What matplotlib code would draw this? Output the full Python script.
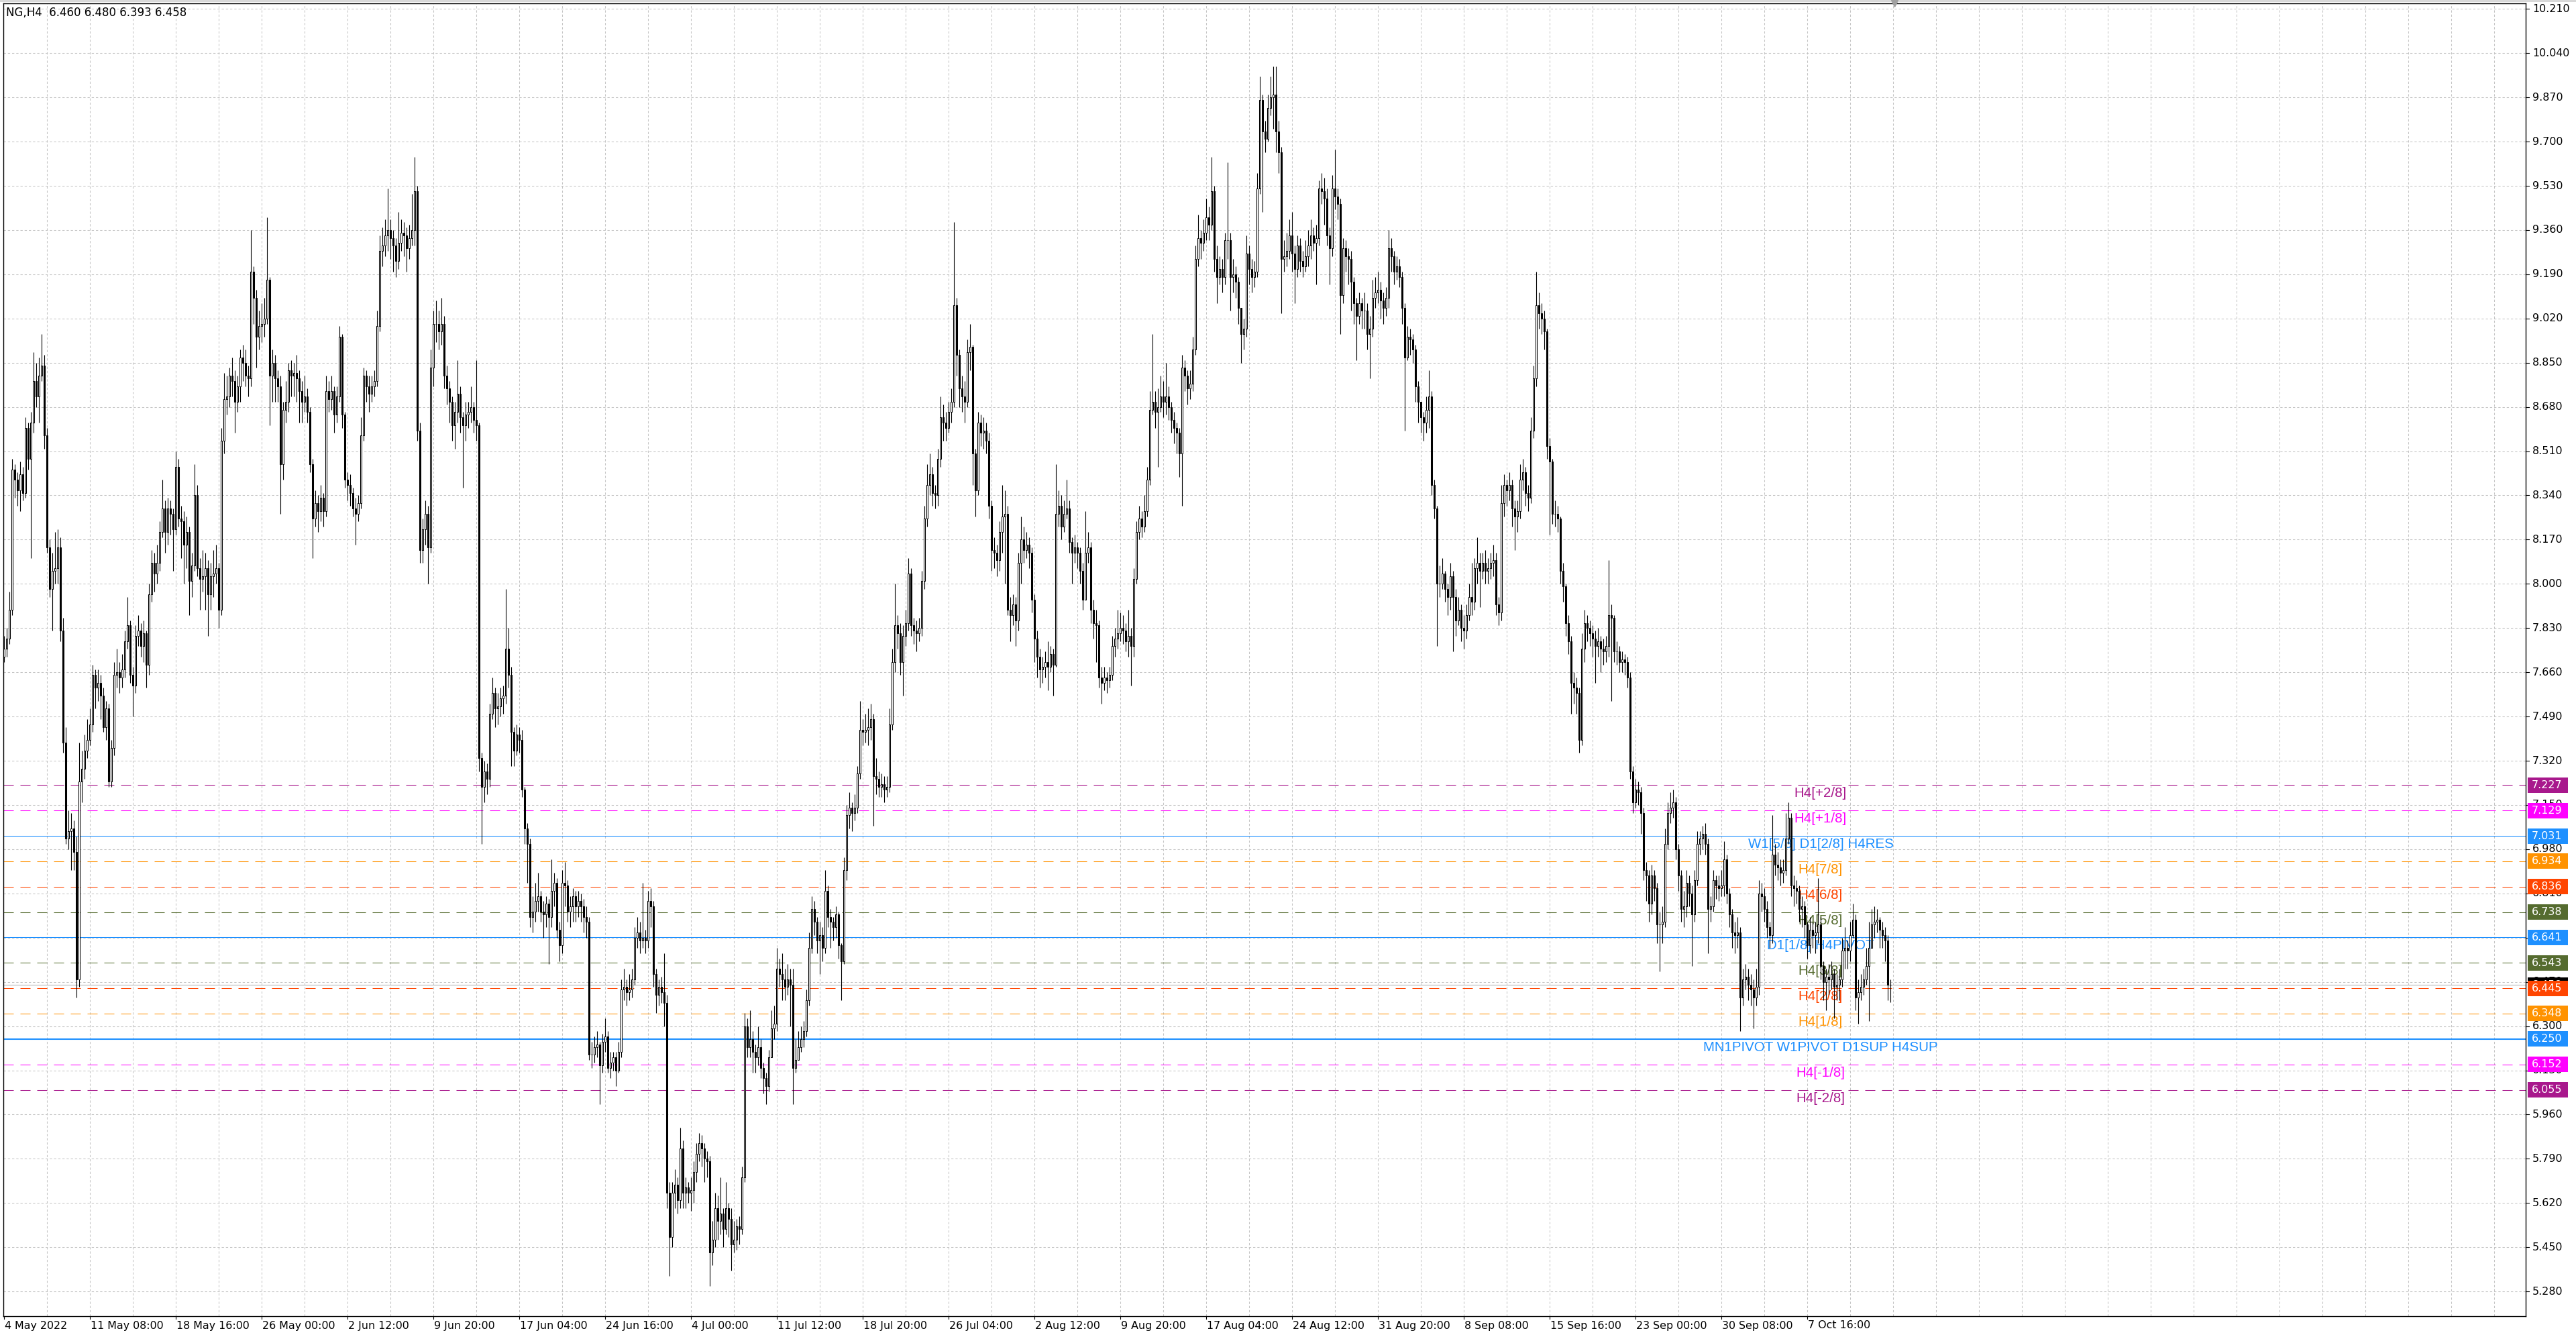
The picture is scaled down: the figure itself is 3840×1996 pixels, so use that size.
import numpy as np
import matplotlib
matplotlib.use("Agg")
import matplotlib.pyplot as plt
import matplotlib.transforms as mtransforms
from matplotlib.patches import Rectangle

# NG, H4 candles, prices in cents: "close high low" per bar, open = previous close
first_open = 772
candles_1 = """
775 780 770  779 783 772  790 797 777  844 848 788  840 846 833  836 843 830
842 847 828  835 845 832  860 864 833  848 862 844  862 866 810  878 889 858
872 885 868  880 887 862  884 896 878  857 888 852  814 860 812  798 817 795
805 812 782  806 820 800  814 821 800  782 818 778  739 787 735  702 745 700
705 713 698  706 712 690  697 709 690  648 703 641  724 739 645  729 736 716
736 742 725  740 748 733  746 752 738  765 769 743  760 767 752  762 767 755
757 765 748  745 760 743  752 755 740  724 754 722  737 740 722  765 770 734
766 775 760  764 770 758  767 773 760  778 782 764  784 795 775  765 786 762
761 768 749  780 784 758  782 788 776  776 785 772  781 786 770  769 782 760
796 800 765  808 813 793  804 812 797  808 815 800  820 824 805  829 840 818
820 832 812  829 833 815  827 832 819  821 829 805  845 851 819  825 848 822
824 830 810  815 828 800  820 826 806  801 822 788  807 812 795  834 846 805
806 838 803  802 810 790  803 813 797  806 812 790  796 809 780  803 808 790
804 813 795  806 815 800  790 808 783  855 860 788  871 881 850  872 880 865
880 883 868  878 887 872  870 882 858  876 880 866  887 890 870  885 892 878
880 890 876  879 884 872  920 936 876  910 922 900  895 913 883  899 905 890
900 908 893  902 910 895  917 941 900  880 918 861  885 890 870  879 888 870
876 882 870  846 880 827  867 870 840  870 878 862  882 885 866  880 886 872
881 885 872  879 888 870  874 882 862  870 878 862  872 880 866  866 875 862
846 868 843  825 848 810  831 836 822  828 834 820  833 838 824  828 835 822
"""
candles_2 = """
874 880 826  871 878 866  874 880 867  865 876 858  872 876 862  895 899 870
865 896 860  840 866 837  838 843 832  835 842 830  829 837 826  827 833 815
831 834 824  857 864 829  880 883 855  876 882 870  873 880 866  876 880 870
878 882 872  899 905 876  928 934 897  930 937 922  934 940 926  936 952 928
933 940 925  930 936 920  924 933 918  931 943 921  935 940 928  934 939 926
929 937 920  933 938 925  936 950 930  951 964 930  859 953 855  813 862 808
821 825 808  827 832 815  814 830 800  883 890 812  900 905 876  900 909 893
897 905 890  900 910 892  880 903 875  875 884 869  870 878 862  861 872 855
866 870 852  873 886 862  864 876 858  861 866 837  865 870 855  866 870 860
868 876 862  863 870 858  861 886 855  733 862 728  722 735 700  728 732 716
725 731 719  750 754 722  758 764 748  752 760 745  753 758 746  756 760 749
757 761 750  775 798 754  765 783 760  743 768 730  736 745 730  742 746 734
740 745 735  721 744 718  706 722 700  700 708 685  672 702 668  674 680 666
678 685 670  680 689 674  674 682 670  673 678 664  677 680 668  672 679 654
682 694 668  685 689 676  667 687 664  661 670 655  685 690 658  684 693 676
674 686 670  676 680 668  680 683 670  676 682 670  678 682 672  676 681 670
672 679 666  670 676 664  619 672 617  619 624 614  622 626 616  623 628 618
615 624 600  624 627 612  626 633 620  614 628 612  616 620 610  618 620 613
613 620 607  620 624 612  644 648 618  645 652 640  643 648 638  644 650 640
648 652 641  664 668 646  666 672 660  663 670 658  664 685 660  663 667 658
"""
candles_3 = """
678 682 660  676 683 668  650 678 645  642 652 635  645 648 638  643 649 639
639 658 630  566 642 560  549 570 534  566 570 545  569 575 560  563 572 558
583 591 560  566 586 560  568 572 560  566 570 562  567 572 559  574 578 562
581 585 570  585 589 578  583 588 576  579 585 570  578 582 572  543 580 530
548 555 538  560 566 545  555 565 548  558 572 550  552 560 545  560 570 550
556 562 549  546 560 536  548 555 543  553 556 544  552 557 546  572 576 550
630 635 570  622 633 618  625 636 618  620 628 612  618 623 612  622 630 615
614 625 610  610 616 604  607 612 600  618 621 605  629 636 622  631 638 625
652 660 628  650 656 645  648 658 640  645 652 640  648 654 642  646 652 630
614 652 600  617 625 612  622 628 618  625 630 620  628 632 622  640 644 626
660 666 638  675 680 658  670 678 665  663 672 658  665 670 650  660 668 655
682 690 658  672 684 668  670 675 660  668 672 663  673 676 664  661 674 656
655 662 640  690 695 654  711 715 686  714 720 706  712 716 705  714 719 709
727 730 712  744 755 725  743 748 738  744 750 739  745 752 738  748 754 740
726 750 707  725 733 719  722 728 718  723 727 718  721 726 716  722 726 718
746 752 720  770 775 744  784 800 766  781 788 775  770 785 765  780 784 757
785 790 776  804 810 782  784 806 780  782 787 777  781 786 774  783 787 778
801 805 780  825 830 798  838 846 822  842 850 834  835 845 830  834 838 829
848 852 830  864 872 845  862 869 855  860 866 855  866 870 858  870 875 862
907 939 868  888 910 880  875 890 868  872 880 866  870 878 862  889 894 868
"""
candles_4 = """
891 900 882  850 892 838  836 852 826  862 866 834  858 865 853  859 864 852
855 862 850  830 858 825  813 832 805  812 818 806  809 815 803  820 824 805
826 838 812  827 836 800  790 830 788  788 795 778  792 796 784  786 795 776
808 812 782  817 826 800  813 822 808  815 820 810  812 818 806  794 814 789
779 796 770  772 782 764  767 775 760  768 772 762  770 774 764  768 778 759
773 776 766  769 775 757  827 846 768  830 836 822  822 834 817  827 832 820
829 840 825  816 832 812  812 818 800  814 819 808  812 816 806  805 814 800
794 808 790  812 828 798  814 820 808  790 816 785  785 794 779  784 790 770
764 786 760  762 768 754  764 768 759  763 766 758  765 768 760  776 780 763
779 783 772  781 790 775  783 789 778  782 788 777  778 785 774  780 790 772
776 783 761  802 806 772  820 824 800  825 830 817  822 828 818  828 834 820
840 845 826  867 874 838  870 896 865  866 874 860  868 875 845  872 880 866
870 878 864  872 885 865  868 876 863  863 870 858  860 866 854  858 862 850
850 860 841  883 888 830  880 886 874  875 882 869  877 882 871  890 895 874
925 930 888  933 942 922  931 936 925  935 940 928  941 948 932  938 945 932
951 964 936  925 953 920  918 930 908  921 926 915  918 925 912  932 935 915
932 962 925  918 935 905  919 925 912  916 922 910  906 918 900  896 906 885
898 902 890  927 934 895  921 930 915  918 925 912  920 924 914  952 958 918
986 995 950  974 988 943  971 978 966  983 988 970  987 995 980  988 999 975
974 999 966  966 978 958  925 968 904  926 932 920  928 935 922  934 940 925
"""
candles_5 = """
927 943 920  921 930 908  930 934 918  924 933 920  922 928 918  926 932 920
930 936 922  934 940 925  931 937 928  933 938 915  952 955 930  951 958 946
948 956 938  934 952 930  929 937 915  952 957 926  949 967 944  946 952 940
911 948 896  929 933 908  926 932 920  925 929 915  916 928 905  908 918 900
903 910 886  908 912 900  905 910 898  905 912 898  896 908 890  898 903 879
910 917 895  912 918 906  913 920 908  909 916 902  906 912 900  910 914 903
929 936 906  926 933 920  920 928 915  922 926 917  918 925 914  906 920 900
887 908 859  895 899 886  894 898 888  890 896 885  876 892 870  870 878 862
864 870 858  862 866 855  867 872 858  872 882 860  838 874 834  829 840 825
800 830 776  800 807 795  804 810 798  798 805 793  795 800 788  803 808 790
795 805 774  786 798 780  790 795 784  783 792 778  782 788 775  788 792 779
795 800 786  793 808 788  806 810 790  808 818 800  805 812 791  808 812 802
805 813 800  806 810 800  808 812 802  809 815 803  792 812 788  789 795 784
831 838 786  838 842 826  836 840 830  838 843 832  829 840 822  826 832 813
828 832 820  840 846 825  843 848 836  835 845 830  833 838 828  859 864 831
879 884 856  907 920 876  904 912 898  902 908 896  897 905 890  853 898 848
847 856 819  827 848 823  827 832 822  825 830 820  805 826 800  799 808 793
785 800 780  778 788 773  762 780 750  760 766 754  758 764 750  740 760 735
775 781 738  785 790 770  783 788 778  781 786 776  779 784 772  776 782 762
778 783 772  775 780 766  774 779 769  776 780 770  788 809 772  787 792 755
"""
candles_6 = """
774 788 770  774 778 769  770 776 766  771 774 766  770 773 765  764 772 760
728 766 725  716 730 712  721 725 714  720 724 715  712 722 704  690 714 686
688 693 678  677 690 670  688 692 673  683 690 678  669 685 662  669 674 651
670 676 662  700 706 668  712 716 698  714 720 708  716 721 710  698 718 694
688 700 682  675 690 670  676 682 668  685 690 672  681 688 676  673 684 653
686 690 670  700 705 684  702 705 696  704 707 698  700 708 696  675 702 658
676 680 670  686 690 674  684 688 679  683 688 678  684 690 680  694 701 680
681 696 677  673 683 668  666 675 660  665 670 658  666 672 660  641 668 628
648 652 638  649 654 644  646 652 640  644 650 638  641 648 629  645 652 638
681 686 642  680 685 674  675 683 670  668 678 664  665 670 660  696 711 662
692 700 688  691 697 686  689 694 684  690 694 685  702 712 688  710 716 700
684 712 680  683 688 676  682 686 677  675 684 670  676 680 668  669 678 664
661 670 656  667 672 658  665 670 660  666 670 658  669 687 662  653 672 648
647 655 640  649 652 636  648 654 642  650 655 644  645 652 633  646 650 640
648 652 640  659 664 645  660 668 652  659 663 652  665 670 655  671 677 664
641 673 636  643 648 631  645 650 640  648 652 642  653 660 646  660 670 632
669 675 660  670 676 664  671 675 666  667 672 660  665 670 660  663 668 655
646 665 640  645.8 648 639.3
"""

date_labels = ["4 May 2022", "11 May 08:00", "18 May 16:00", "26 May 00:00",
               "2 Jun 12:00", "9 Jun 20:00", "17 Jun 04:00", "24 Jun 16:00",
               "4 Jul 00:00", "11 Jul 12:00", "18 Jul 20:00", "26 Jul 04:00",
               "2 Aug 12:00", "9 Aug 20:00", "17 Aug 04:00", "24 Aug 12:00",
               "31 Aug 20:00", "8 Sep 08:00", "15 Sep 16:00", "23 Sep 00:00",
               "30 Sep 08:00", "7 Oct 16:00"]
bars_per_label = 32

price_ticks = [10.210, 10.040, 9.870, 9.700, 9.530, 9.360, 9.190, 9.020, 8.850,
               8.680, 8.510, 8.340, 8.170, 8.000, 7.830, 7.660, 7.490, 7.320,
               7.150, 6.980, 6.810, 6.640, 6.470, 6.300, 6.130, 5.960, 5.790,
               5.620, 5.450, 5.280]

level_prices = [7.227, 7.129, 7.031, 6.934, 6.836, 6.738, 6.641, 6.543, 6.445,
                6.348, 6.250, 6.152, 6.055]
level_names = ["H4[+2/8]", "H4[+1/8]", "W1[5/8] D1[2/8] H4RES", "H4[7/8]",
               "H4[6/8]", "H4[5/8]", "D1[1/8] H4PIVOT", "H4[3/8]", "H4[2/8]",
               "H4[1/8]", "MN1PIVOT W1PIVOT D1SUP H4SUP", "H4[-1/8]", "H4[-2/8]"]
level_colors = ["#a8188c", "#ff00ff", "#1e90ff", "#ff9200", "#ff4500", "#556b2f",
                "#1e90ff", "#556b2f", "#ff4500", "#ff9200", "#1e90ff", "#ff00ff",
                "#a8188c"]
level_dashed = [True, True, False, True, True, True, False, True, True, True,
                False, True, True]
level_width = [0.75] * 10 + [1.5] + [0.75] * 2

# ---- parse bars
parts = [candles_1, candles_2, candles_3, candles_4, candles_5, candles_6]
arr = np.concatenate([np.array(p.split(), float).reshape(-1, 3) for p in parts]) / 100.0
c, h, l = arr[:, 0], arr[:, 1], arr[:, 2]
o = np.r_[first_open / 100.0, c[:-1]]
h = np.maximum(h, np.maximum(o, c))
l = np.minimum(l, np.minimum(o, c))
n = len(c)
x = np.arange(n)

# ---- figure geometry (pixels)
W, H, DPI = 3840, 1996, 100
PL, PR, PT, PB = 5, 3765, 5, 1962
PPU = 387.8  # pixels per price unit
fig = plt.figure(figsize=(W / DPI, H / DPI), dpi=DPI)
fig.patch.set_facecolor("white")
ax = fig.add_axes([PL / W, 1 - PB / H, (PR - PL) / W, (PB - PT) / H])
ax.set_xlim((PL - 6) / 4, (PR - 6) / 4)
ax.set_ylim(10.21 - (PB - 13.3) / PPU, 10.21 + (13.3 - PT) / PPU)
ax.set_xticks([])
ax.set_yticks([])
for s in ax.spines.values():
    s.set_color("black")
    s.set_linewidth(1.0)

grid_kw = dict(color="#c4c4c4", lw=0.75, ls=(0, (3.2, 2.8)), zorder=1)
for p in price_ticks:
    ax.axhline(p, **grid_kw)
for i in range(16, int((PR - 6) / 4), 16):
    ax.axvline(i, **grid_kw)

# levels
for p, name, col, dashed, lw in zip(level_prices, level_names, level_colors,
                                    level_dashed, level_width):
    ax.axhline(p, color=col, lw=lw, ls=(0, (14.4, 9.6)) if dashed else "-", zorder=2)
    ax.text(677, p - 3 / PPU, name, color=col, ha="center", va="top",
            fontsize=14.8, family="Liberation Sans", zorder=3)

# bid line
ax.axhline(c[-1], color="#c0c0c0", lw=0.9, zorder=2)

# candles
ax.vlines(x, l, h, color="black", lw=0.8, zorder=4)
bull = c > o
bear = ~bull
ax.bar(x[bull], c[bull] - o[bull], bottom=o[bull], width=0.55,
       facecolor="white", edgecolor="black", lw=0.75, zorder=5)
ax.bar(x[bear], c[bear] - o[bear], bottom=o[bear], width=0.55,
       facecolor="black", edgecolor="black", lw=0.75, zorder=5)

# chart shift marker
ax.plot([n + 0.5], [1.0], marker="v", ms=7, color="#a0a0a0", clip_on=False,
        transform=mtransforms.blended_transform_factory(ax.transData, ax.transAxes),
        zorder=30)

# right price scale
fy = mtransforms.blended_transform_factory(fig.transFigure, ax.transData)
for p in price_ticks:
    ax.plot([PR / W, (PR + 5) / W], [p, p], transform=fy, color="black", lw=0.8,
            clip_on=False, zorder=19)
    ax.text(3775 / W, p, f"{p:.3f}", transform=fy, ha="left", va="center",
            fontsize=11.4, color="black", clip_on=False, zorder=20)

def price_box(p, col, z):
    ax.add_artist(Rectangle((3768 / W, p - 11.5 / PPU), 60 / W, 23 / PPU,
                            transform=fy, facecolor=col, edgecolor="none",
                            clip_on=False, zorder=z))
    ax.text(3774 / W, p, f"{p:.3f}", transform=fy, ha="left", va="center",
            fontsize=11.4, color="white", clip_on=False, zorder=z + 0.5)

price_box(c[-1], "black", 21)
for k, (p, col) in enumerate(zip(level_prices, level_colors)):
    price_box(p, col, 22 + k)

# time scale
for k, lab in enumerate(date_labels):
    xb = k * bars_per_label
    xp = 6 + 4 * xb
    fig.add_artist(plt.Line2D([xp / W, xp / W], [1 - PB / H, 1 - (PB + 4) / H],
                              color="black", lw=0.8, transform=fig.transFigure))
    fig.text((xp + 1) / W, 1 - 1976 / H, lab, ha="left", va="center", fontsize=11.4)

# header
fig.text(9 / W, 1 - 19.5 / H, f"NG,H4  {o[-1]:.3f} {h[-1]:.3f} {l[-1]:.3f} {c[-1]:.3f}",
         ha="left", va="center", fontsize=12)
fig.add_artist(plt.Line2D([0, 1], [1 - 1 / H, 1 - 1 / H], color="#a0a0a0", lw=1.0,
                          transform=fig.transFigure))

fig.savefig("out.png", dpi=DPI, facecolor="white")
